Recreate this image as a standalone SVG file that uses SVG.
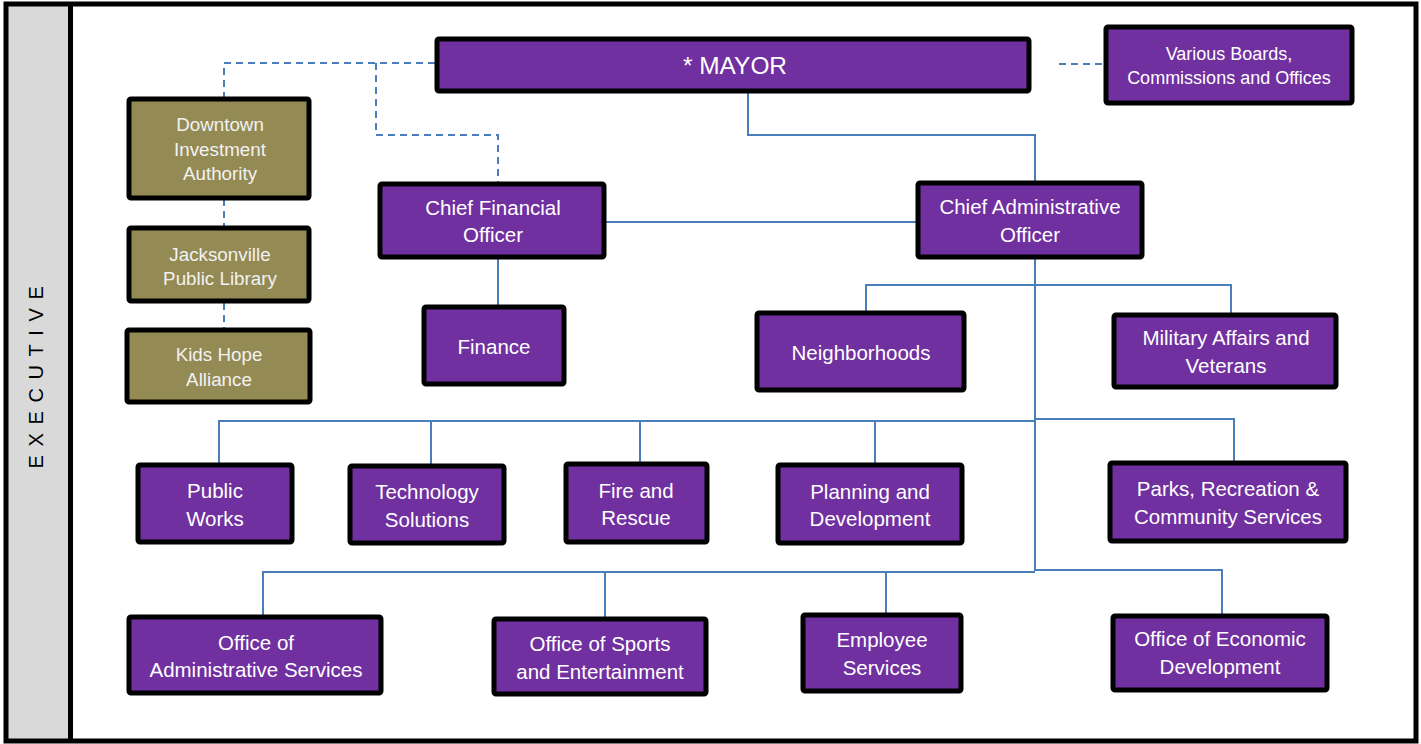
<svg xmlns="http://www.w3.org/2000/svg" width="1421" height="744" viewBox="0 0 1421 744">
  <style>
    .box { fill: #7030A0; stroke: #000; stroke-width: 5; }
    .olive { fill: #948A54; stroke: #000; stroke-width: 5; }
    .lbl { font-family: "Liberation Sans", Arial, sans-serif; font-size: 20.5px; fill: #fff; text-anchor: middle; }
    .lbl-o { font-family: "Liberation Sans", Arial, sans-serif; font-size: 18.8px; fill: #f2f2f2; text-anchor: middle; }
    .small { font-size: 18px; }
    .big { font-size: 24px; }
    .solid { fill: none; stroke: #4A7EBB; stroke-width: 2; }
    .dash { fill: none; stroke: #4A7EBB; stroke-width: 2; stroke-dasharray: 7 5; }
  </style>

  <!-- frame and side band -->
  <rect x="0" y="0" width="1421" height="744" fill="#fff"/>
  <rect x="8" y="6" width="62" height="733" fill="#D9D9D9"/>
  <rect x="6" y="4" width="1410" height="737" fill="none" stroke="#000" stroke-width="5"/>
  <line x1="70.5" y1="4" x2="70.5" y2="741" stroke="#000" stroke-width="5"/>
  <text x="38" y="373" transform="rotate(-90 38 373)" font-family="Liberation Sans, Arial, sans-serif" font-size="20" letter-spacing="8.6" fill="#000" text-anchor="middle" dominant-baseline="middle">EXECUTIVE</text>

  <!-- connectors -->
  <g id="connectors">
    <path class="dash" d="M435 63 H224 V97"/>
    <path class="dash" d="M376 63 V135 H498 V182"/>
    <path class="dash" d="M224 199 V226"/>
    <path class="dash" d="M224 303 V328"/>
    <path class="dash" d="M1059 64 H1104"/>
    <path class="solid" d="M748 92 V135 H1035 V181"/>
    <path class="solid" d="M606 222 H916"/>
    <path class="solid" d="M498 259 V305"/>
    <path class="solid" d="M1035 259 V571"/>
    <path class="solid" d="M866 311 V285 H1231 V313"/>
    <path class="solid" d="M219 463 V421 H1035"/>
    <path class="solid" d="M431 464 V421"/>
    <path class="solid" d="M640 462 V421"/>
    <path class="solid" d="M875 463 V421"/>
    <path class="solid" d="M1035 419 H1234 V461"/>
    <path class="solid" d="M263 615 V572 H1035"/>
    <path class="solid" d="M605 617 V572"/>
    <path class="solid" d="M886 613 V572"/>
    <path class="solid" d="M1035 570 H1222 V614"/>
  </g>

  <g id="mayor">
    <rect class="box" x="437" y="39" width="592" height="52" rx="2"/>
    <text class="lbl big" x="735" y="74" textLength="104" lengthAdjust="spacingAndGlyphs">* MAYOR</text>
  </g>
  <g id="boards">
    <rect class="box" x="1106" y="27" width="246" height="76" rx="2"/>
    <text class="lbl small" x="1229" y="60">Various Boards,</text>
    <text class="lbl small" x="1229" y="84">Commissions and Offices</text>
  </g>
  <g id="dia">
    <rect class="olive" x="129" y="99" width="180" height="99" rx="2"/>
    <text class="lbl-o" x="220" y="131">Downtown</text>
    <text class="lbl-o" x="220" y="156">Investment</text>
    <text class="lbl-o" x="220" y="180">Authority</text>
  </g>
  <g id="jpl">
    <rect class="olive" x="129" y="228" width="180" height="73" rx="2"/>
    <text class="lbl-o" x="220" y="261">Jacksonville</text>
    <text class="lbl-o" x="220" y="285">Public Library</text>
  </g>
  <g id="kha">
    <rect class="olive" x="127" y="330" width="183" height="72" rx="2"/>
    <text class="lbl-o" x="219" y="361">Kids Hope</text>
    <text class="lbl-o" x="219" y="386">Alliance</text>
  </g>
  <g id="cfo">
    <rect class="box" x="380" y="184" width="224" height="73" rx="2"/>
    <text class="lbl" x="493" y="215">Chief Financial</text>
    <text class="lbl" x="493" y="242">Officer</text>
  </g>
  <g id="finance">
    <rect class="box" x="424" y="307" width="140" height="77" rx="2"/>
    <text class="lbl" x="494" y="354">Finance</text>
  </g>
  <g id="cao">
    <rect class="box" x="918" y="183" width="224" height="74" rx="2"/>
    <text class="lbl" x="1030" y="214">Chief Administrative</text>
    <text class="lbl" x="1030" y="242">Officer</text>
  </g>
  <g id="neighborhoods">
    <rect class="box" x="757" y="313" width="207" height="77" rx="2"/>
    <text class="lbl" x="861" y="360">Neighborhoods</text>
  </g>
  <g id="military">
    <rect class="box" x="1114" y="315" width="222" height="72" rx="2"/>
    <text class="lbl" x="1226" y="345">Military Affairs and</text>
    <text class="lbl" x="1226" y="373">Veterans</text>
  </g>
  <g id="public-works">
    <rect class="box" x="138" y="465" width="154" height="77" rx="2"/>
    <text class="lbl" x="215" y="498">Public</text>
    <text class="lbl" x="215" y="526">Works</text>
  </g>
  <g id="technology">
    <rect class="box" x="350" y="466" width="154" height="77" rx="2"/>
    <text class="lbl" x="427" y="499">Technology</text>
    <text class="lbl" x="427" y="527">Solutions</text>
  </g>
  <g id="fire">
    <rect class="box" x="566" y="464" width="141" height="78" rx="2"/>
    <text class="lbl" x="636" y="498">Fire and</text>
    <text class="lbl" x="636" y="525">Rescue</text>
  </g>
  <g id="planning">
    <rect class="box" x="778" y="465" width="184" height="78" rx="2"/>
    <text class="lbl" x="870" y="499">Planning and</text>
    <text class="lbl" x="870" y="526">Development</text>
  </g>
  <g id="parks">
    <rect class="box" x="1110" y="463" width="236" height="78" rx="2"/>
    <text class="lbl" x="1228" y="496">Parks, Recreation &amp;</text>
    <text class="lbl" x="1228" y="524">Community Services</text>
  </g>
  <g id="admin-services">
    <rect class="box" x="129" y="617" width="252" height="76" rx="2"/>
    <text class="lbl" x="256" y="650">Office of</text>
    <text class="lbl" x="256" y="677">Administrative Services</text>
  </g>
  <g id="sports">
    <rect class="box" x="494" y="619" width="212" height="75" rx="2"/>
    <text class="lbl" x="600" y="651">Office of Sports</text>
    <text class="lbl" x="600" y="679">and Entertainment</text>
  </g>
  <g id="employee">
    <rect class="box" x="803" y="615" width="158" height="76" rx="2"/>
    <text class="lbl" x="882" y="647">Employee</text>
    <text class="lbl" x="882" y="675">Services</text>
  </g>
  <g id="economic">
    <rect class="box" x="1113" y="616" width="214" height="74" rx="2"/>
    <text class="lbl" x="1220" y="646">Office of Economic</text>
    <text class="lbl" x="1220" y="674">Development</text>
  </g>
</svg>
